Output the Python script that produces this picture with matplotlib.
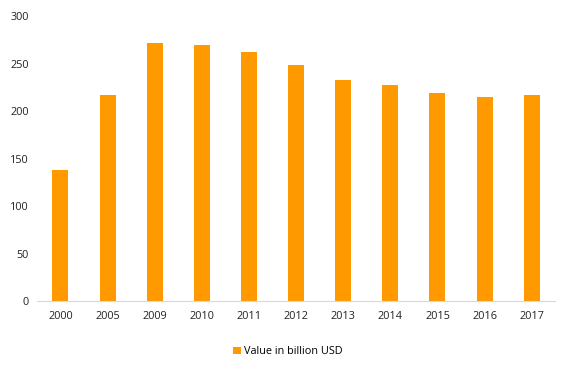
import matplotlib.pyplot as plt
import numpy as np

years = ['2000', '2005', '2009', '2010', '2011', '2012', '2013', '2014', '2015', '2016', '2017']
values = [138, 217, 272, 270, 262, 248, 233, 227, 219, 215, 217]

plt.rcParams['font.family'] = ['Open Sans', 'DejaVu Sans']

fig = plt.figure(figsize=(5.76, 3.73), dpi=100)
ax = fig.add_axes([0.064, 0.193, 0.9, 0.764])

x = np.arange(len(years))
ax.bar(x, values, width=0.34, color='#FF9900', label='Value in billion USD')

ax.set_xlim(-0.5, len(years) - 0.5)
ax.set_ylim(0, 300)
ax.set_yticks(range(0, 301, 50))
ax.set_xticks(x)
ax.set_xticklabels(years)
ax.tick_params(axis='both', length=0, labelsize=7.8, colors='#222222')
ax.tick_params(axis='x', pad=7)
ax.tick_params(axis='y', pad=6)

for side in ['top', 'right', 'left']:
    ax.spines[side].set_visible(False)
ax.spines['bottom'].set_color('#d9d9d9')

fig.legend(loc='center', bbox_to_anchor=(0.5, 0.057), frameon=False,
           fontsize=7.8, handlelength=0.7, handleheight=0.7, handletextpad=0.3)

fig.savefig('out.png', dpi=100)
